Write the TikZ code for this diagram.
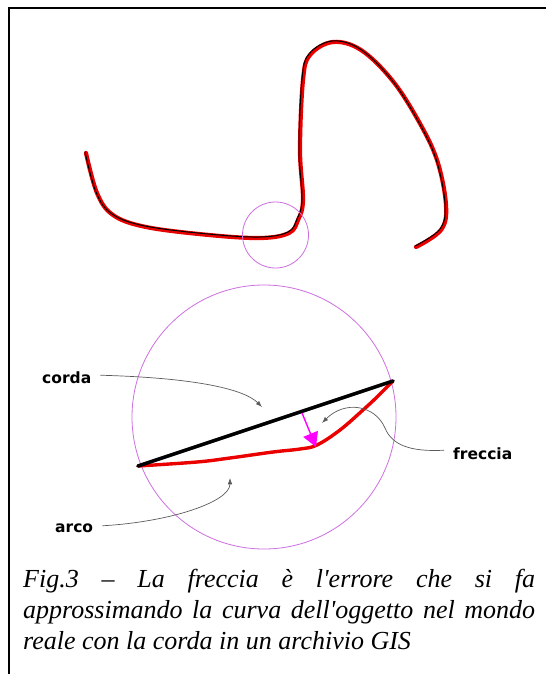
\documentclass[tikz,border=0pt]{standalone}
\usepackage{fontspec}
\setmainfont{Liberation Serif}
\newfontfamily\labelfont{DejaVu Sans}
\usetikzlibrary{positioning,arrows.meta}
\definecolor{CurveRed}{RGB}{235,0,0}
\definecolor{LensViolet}{RGB}{205,110,225}
\definecolor{ErrMagenta}{RGB}{255,0,255}
\definecolor{LeaderGray}{RGB}{90,90,90}

\begin{document}
\begin{tikzpicture}[
x=1pt,y=-1pt,
lens/.style={draw=LensViolet,line width=0.8pt},
redline/.style={draw=CurveRed,line width=4.2pt,line cap=round,line join=round},
blackline/.style={draw=black,line width=1pt,line cap=round},
label/.style={anchor=base west,inner sep=0pt,font=\labelfont\bfseries\fontsize{15.5}{18}\selectfont},
caption/.style={anchor=base west,inner sep=0pt,font=\itshape\fontsize{26}{31}\selectfont},
leader/.style={-{Latex[length=2.2mm,width=1.6mm]},draw=LeaderGray,line width=0.7pt},
error/.style={-{Triangle[length=5mm,width=5.5mm]},draw=ErrMagenta,fill=ErrMagenta,line width=1.4pt}
]
\useasboundingbox (0,0) rectangle (546,674);
\draw[line width=1.4pt] (9,674) -- (9,8) -- (546,8);

% the real curve, with its GIS copy
\draw[redline] plot[smooth,tension=0.6] coordinates {(86,153) (97,193) (113,215) (146,227) (209,235) (261,238) (289,233) (298,220) (303,200) (300,150) (303,80) (310,55) (333,42) (361,50) (392,80) (418,120) (437,160) (446,205) (441,230) (416,247)};
\draw[blackline,shift={(-1,-1)}] plot[smooth,tension=0.6] coordinates {(86,153) (97,193) (113,215) (146,227) (209,235) (261,238) (289,233) (298,220) (303,200) (300,150) (303,80) (310,55) (333,42) (361,50) (392,80) (418,120) (437,160) (446,205) (441,230) (416,247)};
\draw[lens] (275.5,235) circle[radius=33];

% the magnified detail
\draw[lens] (264,417) circle[radius=132];
\coordinate (chordA) at (138,466);
\coordinate (chordB) at (393,381);
\draw[redline,line width=3.4pt] plot[smooth,tension=0.6] coordinates {(138,466) (197,462) (230,458) (273,452) (300,449) (317,445) (340,430) (363,410) (377,397) (393,381)};
\draw[line width=3.6pt,line cap=round] (chordA) -- (chordB);
\coordinate (errTop) at (302,413);
\coordinate (errTip) at (316,447);
\draw[error] (errTop) -- (errTip);

\node[label] (corda) at (42,383) {corda};
\node[label] (arco) at (55,532) {arco};
\node[label] (freccia) at (453,459) {freccia};
\coordinate (cordaTip) at (262,407);
\coordinate (arcoTip) at (230,478);
\coordinate (frecciaTip) at (322,423);
\draw[leader] ([xshift=9pt,yshift=2pt]corda.east) .. controls (200,378) and (245,390) .. (cordaTip);
\draw[leader] ([xshift=9pt,yshift=2pt]arco.east) .. controls (170,522) and (230,502) .. (arcoTip);
\draw[leader] ([xshift=-9pt,yshift=3pt]freccia.west) .. controls (410,452) and (392,445) .. (385,428) .. controls (375,405) and (345,400) .. (frecciaTip);

\node[caption] (cap1) at (23,587) {\makebox[512pt][s]{Fig.3 -- La freccia è l\textquotesingle errore che si fa}};
\node[caption] (cap2) at (23,618) {\makebox[512pt][s]{approssimando la curva dell\textquotesingle oggetto nel mondo}};
\node[caption] (cap3) at (23,649) {reale con la corda in un archivio GIS};
\end{tikzpicture}
\end{document}
